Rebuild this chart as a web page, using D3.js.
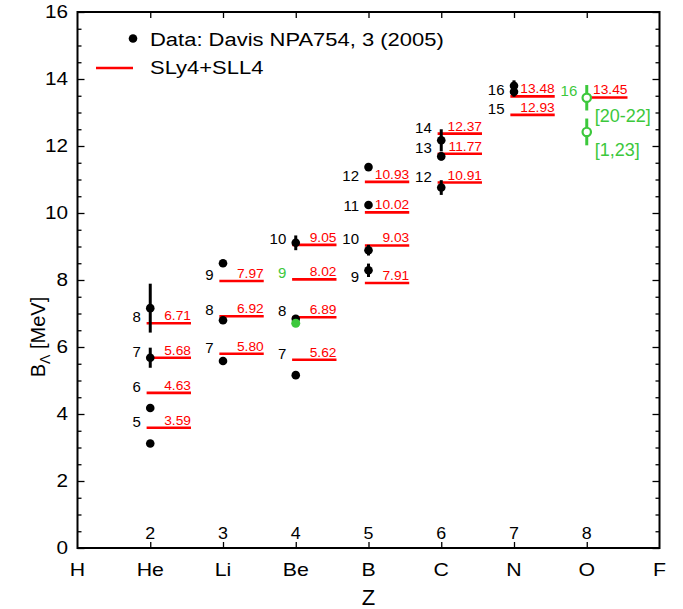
<!DOCTYPE html>
<html>
<head>
<meta charset="utf-8">
<script src="https://cdn.jsdelivr.net/npm/d3@7"></script>
<style>
  body { margin: 0; background: #fff; }
  svg { display: block; font-family: "Liberation Sans", Arial, Helvetica, sans-serif; }
</style>
</head>
<body>
<svg id="chart" width="683" height="609"></svg>
<script>
// ---- Data ----
const elements = ["H", "He", "Li", "Be", "B", "C", "N", "O", "F"];
const elementZ = [1, 2, 3, 4, 5, 6, 7, 8, 9];
const zNumbers = [2, 3, 4, 5, 6, 7, 8];
const yTicks = [0, 2, 4, 6, 8, 10, 12, 14, 16];

// Experimental data (Davis NPA754, 3 (2005))
const dataZ   = [2, 2, 2, 2, 3, 3, 3, 4, 4, 4, 5, 5, 5, 5, 6, 6, 6, 7, 7];
const dataB   = [3.12, 4.18, 5.68, 7.16, 5.58, 6.80, 8.50, 5.16, 6.84, 9.11, 8.29, 8.89, 10.24, 11.37, 10.76, 11.69, 12.17, 13.62, 13.80];
const dataErr = [0.02, 0.10, 0.30, 0.73, 0.03, 0.03, 0.08, 0.08, 0.05, 0.22, 0.20, 0.16, 0.05, 0.06, 0.22, 0.12, 0.33, 0.15, 0.16];

// Green filled point (9Be)
const greenZ = [4];
const greenB = [6.71];

// Green hollow points (16O)
const oZ     = [8, 8];
const oB     = [13.44, 12.42];
const oErr   = [0.38, 0.40];
const oLabel = ["[20-22]", "[1,23]"];

// Theory SLy4+SLL4
const thZ = [2, 2, 2, 2, 3, 3, 3, 4, 4, 4, 4, 5, 5, 5, 5, 6, 6, 6, 7, 7, 8];
const thA = [5, 6, 7, 8, 7, 8, 9, 7, 8, 9, 10, 9, 10, 11, 12, 12, 13, 14, 15, 16, 16];
const thB = [3.59, 4.63, 5.68, 6.71, 5.80, 6.92, 7.97, 5.62, 6.89, 8.02, 9.05, 7.91, 9.03, 10.02, 10.93, 10.91, 11.77, 12.37, 12.93, 13.48, 13.45];
const thGreenLabel = [false, false, false, false, false, false, false, false, false, true, false, false, false, false, false, false, false, false, false, false, true];

// ---- Chart ----
const RED = "#ff0000";
const GREEN = "#3cc83c";
const svg = d3.select("#chart");
const pLeft = 77.5, pRight = 659.5, pTop = 12, pBottom = 548;
const x = d3.scaleLinear().domain([1, 9]).range([pLeft, pRight]);
const y = d3.scaleLinear().domain([0, 16]).range([pBottom, pTop]);

// horizontal stretch of text glyphs to mimic the reference typeface
function stretch(sel, f) {
  sel.each(function() {
    const w = this.getComputedTextLength();
    d3.select(this).attr("textLength", w * f).attr("lengthAdjust", "spacingAndGlyphs");
  });
}

// Axes ticks (inner)
const minorY = d3.range(0, 16.01, 0.5);
const gL = svg.append("g").attr("transform", `translate(${pLeft},0)`)
  .call(d3.axisLeft(y).tickValues(minorY).tickSizeInner(-4).tickSizeOuter(0).tickFormat(""));
const gR = svg.append("g").attr("transform", `translate(${pRight},0)`)
  .call(d3.axisRight(y).tickValues(minorY).tickSizeInner(-4).tickSizeOuter(0).tickFormat(""));
svg.append("g").attr("transform", `translate(0,${pBottom})`)
  .call(d3.axisBottom(x).tickValues(zNumbers).tickSizeInner(-6).tickSizeOuter(0).tickFormat(""));
svg.append("g").attr("transform", `translate(0,${pTop})`)
  .call(d3.axisTop(x).tickValues(zNumbers).tickSizeInner(-6).tickSizeOuter(0).tickFormat(""));
svg.selectAll(".domain").remove();
svg.selectAll(".tick line").attr("stroke", "#000").attr("stroke-width", 1.3);
gL.selectAll("g.tick").filter(d => yTicks.includes(d)).select("line").attr("x2", 7);
gR.selectAll("g.tick").filter(d => yTicks.includes(d)).select("line").attr("x2", -7);

// Frame
svg.append("rect").attr("x", pLeft).attr("y", pTop).attr("width", pRight - pLeft).attr("height", pBottom - pTop)
  .attr("fill", "none").attr("stroke", "#000").attr("stroke-width", 2);

// Y tick labels
const yLab = svg.append("g").selectAll("text").data(yTicks).join("text")
  .attr("x", 68).attr("y", d => y(d)).attr("dy", "0.36em")
  .attr("text-anchor", "end").attr("font-size", 18).text(d => d);
stretch(yLab, 1.15);

// Z numbers inside plot
const zLab = svg.append("g").selectAll("text").data(zNumbers).join("text")
  .attr("x", d => x(d)).attr("y", 539)
  .attr("text-anchor", "middle").attr("font-size", 17).text(d => d);
stretch(zLab, 1.05);

// Element labels
const eLab = svg.append("g").selectAll("text").data(elements).join("text")
  .attr("x", (d, i) => x(elementZ[i])).attr("y", 576)
  .attr("text-anchor", "middle").attr("font-size", 18.5).text(d => d);
stretch(eLab, 1.15);

// Axis titles
svg.append("text").attr("x", x(5)).attr("y", 605).attr("text-anchor", "middle")
  .attr("font-size", 22).text("Z");
const yl = svg.append("text").attr("transform", "translate(45,337) rotate(-90)")
  .attr("text-anchor", "middle").attr("font-size", 20);
yl.append("tspan").text("B");
yl.append("tspan").attr("font-size", 14).attr("dy", 5).text("Λ");
yl.append("tspan").attr("dy", -5).text(" [MeV]");

// Theory lines
const th = thZ.map((z, i) => ({ z, a: thA[i], b: thB[i], g: thGreenLabel[i] }));
svg.append("g").selectAll("line").data(th).join("line")
  .attr("x1", d => x(d.z - 0.05)).attr("x2", d => x(d.z + 0.56))
  .attr("y1", d => y(d.b)).attr("y2", d => y(d.b))
  .attr("stroke", RED).attr("stroke-width", 2.6);
const vLab = svg.append("g").selectAll("text").data(th).join("text")
  .attr("x", d => x(d.z + 0.56)).attr("y", d => y(d.b) - 3)
  .attr("text-anchor", "end").attr("font-size", 12.5).attr("fill", RED)
  .text(d => d.b.toFixed(2));
stretch(vLab, 1.1);
svg.append("g").selectAll("text").data(th).join("text")
  .attr("x", d => x(d.z) - 9.5).attr("y", d => y(d.b) - 1)
  .attr("text-anchor", "end").attr("font-size", 15).attr("fill", d => d.g ? GREEN : "#000")
  .text(d => d.a);

// Data error bars and points
const pts = dataZ.map((z, i) => ({ z, b: dataB[i], e: dataErr[i] }));
svg.append("g").selectAll("line").data(pts).join("line")
  .attr("x1", d => x(d.z)).attr("x2", d => x(d.z))
  .attr("y1", d => y(d.b - d.e)).attr("y2", d => y(d.b + d.e))
  .attr("stroke", "#000").attr("stroke-width", 3);
svg.append("g").selectAll("circle").data(pts).join("circle")
  .attr("cx", d => x(d.z)).attr("cy", d => y(d.b)).attr("r", 4.3).attr("fill", "#000");

// Green filled point
svg.append("g").selectAll("circle").data(greenZ).join("circle")
  .attr("cx", d => x(d)).attr("cy", (d, i) => y(greenB[i])).attr("r", 4.5).attr("fill", GREEN);

// Green hollow points with error bars
const op = oZ.map((z, i) => ({ z, b: oB[i], e: oErr[i], l: oLabel[i] }));
svg.append("g").selectAll("line").data(op).join("line")
  .attr("x1", d => x(d.z)).attr("x2", d => x(d.z))
  .attr("y1", d => y(d.b - d.e)).attr("y2", d => y(d.b + d.e))
  .attr("stroke", GREEN).attr("stroke-width", 3);
svg.append("g").selectAll("circle").data(op).join("circle")
  .attr("cx", d => x(d.z)).attr("cy", d => y(d.b)).attr("r", 4.2)
  .attr("fill", "#fff").attr("stroke", GREEN).attr("stroke-width", 2.2);
svg.append("g").selectAll("text").data(op).join("text")
  .attr("x", d => x(d.z) + 8).attr("y", d => y(d.b) + 24)
  .attr("font-size", 18).attr("fill", GREEN).text(d => d.l);

// Legend
svg.append("circle").attr("cx", 133).attr("cy", 38.5).attr("r", 4.3).attr("fill", "#000");
const lg1 = svg.append("text").attr("x", 150).attr("y", 46).attr("font-size", 18).text("Data: Davis NPA754, 3 (2005)");
svg.append("line").attr("x1", 96).attr("x2", 133).attr("y1", 68).attr("y2", 68)
  .attr("stroke", RED).attr("stroke-width", 2.6);
const lg2 = svg.append("text").attr("x", 150).attr("y", 74).attr("font-size", 18).text("SLy4+SLL4");
stretch(lg1, 1.22);
stretch(lg2, 1.22);
</script>
</body>
</html>
